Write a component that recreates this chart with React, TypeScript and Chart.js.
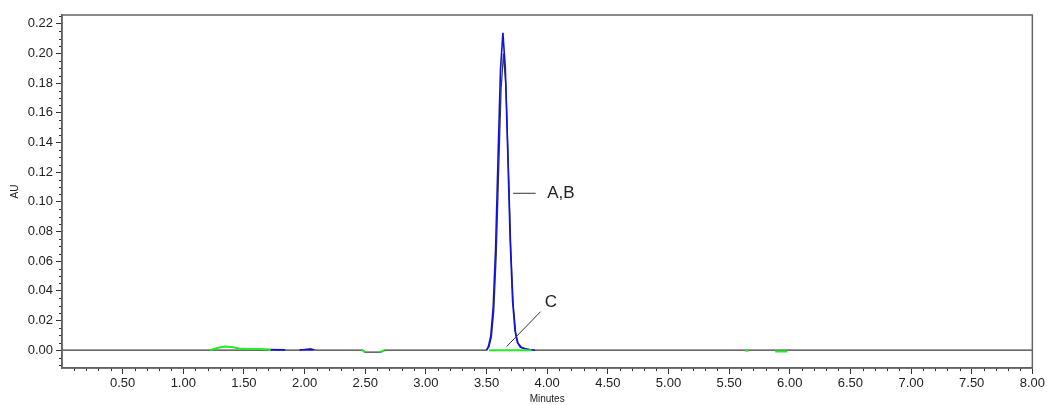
import React, { useEffect, useRef } from "react";
import { Chart, registerables } from "chart.js";
Chart.register(...registerables);

const W = 1047;
const H = 405;

// Axis ranges (minutes / AU)
const X_MIN = 0;
const X_MAX = 8;
const Y_MIN = -0.012;
const Y_MAX = 0.226;

// Major tick values (labelled)
const xMajorTicks = [0.5, 1, 1.5, 2, 2.5, 3, 3.5, 4, 4.5, 5, 5.5, 6, 6.5, 7, 7.5, 8];
const yMajorTicks = [0, 0.02, 0.04, 0.06, 0.08, 0.1, 0.12, 0.14, 0.16, 0.18, 0.2, 0.22];
// Minor tick spacing
const X_MINOR = 0.1;
const Y_MINOR = 0.005;

// Trace B (black) — full run including baseline
const traceB: [number, number][] = [
  [0, 0], [1.96, 0], [2.0, 0.0006], [2.05, 0.001], [2.09, 0], [2.48, 0], [2.5, -0.0013],
  [2.63, -0.0013], [2.66, 0], [3.5, 0.0], [3.52, 0.0022], [3.54, 0.0088], [3.56, 0.027],
  [3.58, 0.064], [3.6, 0.121], [3.62, 0.176], [3.64, 0.2], [3.66, 0.178], [3.68, 0.125],
  [3.7, 0.069], [3.72, 0.031], [3.74, 0.012], [3.76, 0.0047], [3.79, 0.0018], [3.83, 0.0008],
  [3.87, 0.0002], [3.9, 0], [8, 0],
];

// Trace A (blue)
const traceA: [number, number | null][] = [
  [1.7, 0.0004], [1.84, 0.0002], [1.85, null],
  [1.96, 0.0002], [2.08, 0.0002], [2.09, null],
  [3.5, 0], [3.515, 0.0024], [3.535, 0.0094], [3.555, 0.029], [3.575, 0.069], [3.595, 0.13],
  [3.615, 0.189], [3.635, 0.214], [3.655, 0.19], [3.675, 0.133], [3.695, 0.074], [3.715, 0.033],
  [3.735, 0.013], [3.755, 0.005], [3.78, 0.002], [3.82, 0.001], [3.86, 0.0003], [3.9, 0],
];

// Trace C (green)
const traceC: [number, number | null][] = [
  [1.22, 0], [1.28, 0.0015], [1.34, 0.0025], [1.4, 0.0022], [1.46, 0.0012], [1.55, 0.0008],
  [1.64, 0.0008], [1.7, 0.0005], [1.72, 0], [1.73, null],
  [2.47, 0], [2.5, -0.0012], [2.51, null],
  [2.62, -0.0012], [2.66, 0], [2.67, null],
  [3.52, 0], [3.87, 0], [3.88, null],
  [5.63, -0.0003], [5.66, -0.0003], [5.67, null],
  [5.88, -0.0008], [5.98, -0.0008],
];

// Peak annotations: leader lines [x1, y1, x2, y2] and label anchor
const labelAB = { text: "A,B", line: [3.72, 0.1058, 3.905, 0.1058], at: [4.0, 0.1058] };
const labelC = { text: "C", line: [3.666, 0.0025, 3.946, 0.026], at: [3.98, 0.032] };

const FONT = "'Liberation Sans', Arial, sans-serif";

const toXY = (arr: [number, number | null][]) => arr.map(([x, y]) => ({ x, y }));

const near = (v: number, list: number[]) => list.some((t) => Math.abs(t - v) < 1e-6);

const decorPlugin = {
  id: "decor",
  afterDraw(chart: any) {
    const { ctx, chartArea: a, scales } = chart;
    const xs = scales.x;
    const ys = scales.y;
    ctx.save();
    // minor ticks
    ctx.strokeStyle = "#333";
    ctx.lineWidth = 1;
    ctx.beginPath();
    for (let i = 1; i * X_MINOR <= X_MAX + 1e-9; i++) {
      const v = i * X_MINOR;
      if (near(v, xMajorTicks)) continue;
      const px = Math.round(xs.getPixelForValue(v)) + 0.5;
      ctx.moveTo(px, a.bottom);
      ctx.lineTo(px, a.bottom + 3);
    }
    for (let i = Math.ceil(Y_MIN / Y_MINOR); i * Y_MINOR <= Y_MAX + 1e-9; i++) {
      const v = i * Y_MINOR;
      if (near(v, yMajorTicks)) continue;
      const py = Math.round(ys.getPixelForValue(v)) + 0.5;
      ctx.moveTo(a.left - 3, py);
      ctx.lineTo(a.left, py);
    }
    ctx.stroke();
    // frame
    ctx.strokeStyle = "#666";
    ctx.lineWidth = 1.5;
    ctx.strokeRect(a.left, a.top, a.right - a.left, a.bottom - a.top);
    // annotations
    ctx.strokeStyle = "#333";
    ctx.lineWidth = 1;
    ctx.fillStyle = "#222";
    ctx.font = `17px ${FONT}`;
    ctx.textAlign = "left";
    ctx.textBaseline = "middle";
    for (const lab of [labelAB, labelC]) {
      const [x1, y1, x2, y2] = lab.line;
      ctx.beginPath();
      ctx.moveTo(xs.getPixelForValue(x1), ys.getPixelForValue(y1));
      ctx.lineTo(xs.getPixelForValue(x2), ys.getPixelForValue(y2));
      ctx.stroke();
      ctx.fillText(lab.text, xs.getPixelForValue(lab.at[0]), ys.getPixelForValue(lab.at[1]));
    }
    ctx.restore();
  },
};

export default function App() {
  const ref = useRef<HTMLCanvasElement | null>(null);
  useEffect(() => {
    document.body.style.margin = "0";
    if (!ref.current) return;
    const chart = new Chart(ref.current, {
      type: "line",
      data: {
        datasets: [
          {
            label: "A",
            data: toXY(traceA) as any,
            borderColor: "#1010e0",
            borderWidth: 1.6,
            pointRadius: 0,
            spanGaps: false,
            order: 1,
          },
          {
            label: "B",
            data: toXY(traceB) as any,
            borderColor: "#3a3a3a",
            borderWidth: 1.3,
            pointRadius: 0,
            order: 2,
          },
          {
            label: "C",
            data: toXY(traceC) as any,
            borderColor: "#22ee22",
            borderWidth: 2,
            pointRadius: 0,
            spanGaps: false,
            order: 0,
          },
        ],
      },
      options: {
        animation: false,
        responsive: false,
        devicePixelRatio: 1,
        parsing: false as any,
        layout: { padding: { top: 15, right: 14, left: 0, bottom: 0 } },
        plugins: { legend: { display: false }, tooltip: { enabled: false } },
        scales: {
          x: {
            type: "linear",
            min: X_MIN,
            max: X_MAX,
            afterBuildTicks: (s: any) => {
              s.ticks = xMajorTicks.map((v) => ({ value: v }));
            },
            afterFit: (s: any) => {
              s.height = 37;
            },
            ticks: {
              autoSkip: false,
              maxRotation: 0,
              padding: 2,
              color: "#222",
              font: { family: FONT, size: 13 },
              callback: (v: any) => Number(v).toFixed(2),
            },
            grid: { drawOnChartArea: false, drawTicks: true, tickLength: 6, color: "#333" },
            border: { display: true, color: "#555", width: 1.5 },
            title: {
              display: true,
              text: "Minutes",
              color: "#222",
              font: { family: FONT, size: 10 },
              padding: { top: 0, bottom: 0 },
            },
          },
          y: {
            type: "linear",
            min: Y_MIN,
            max: Y_MAX,
            afterBuildTicks: (s: any) => {
              s.ticks = yMajorTicks.map((v) => ({ value: v }));
            },
            afterFit: (s: any) => {
              s.width = 62;
            },
            ticks: {
              autoSkip: false,
              padding: 3,
              color: "#222",
              font: { family: FONT, size: 13 },
              callback: (v: any) => Number(v).toFixed(2),
            },
            grid: { drawOnChartArea: false, drawTicks: true, tickLength: 6, color: "#333" },
            border: { display: true, color: "#555", width: 1.5 },
            title: {
              display: true,
              text: "AU",
              color: "#222",
              font: { family: FONT, size: 10 },
              padding: { top: 9, bottom: 0 },
            },
          },
        },
      },
      plugins: [decorPlugin],
    });
    return () => chart.destroy();
  }, []);
  return (
    <div style={{ width: W, height: H, background: "#fff" }}>
      <canvas ref={ref} width={W} height={H} style={{ display: "block", width: W, height: H }} />
    </div>
  );
}
